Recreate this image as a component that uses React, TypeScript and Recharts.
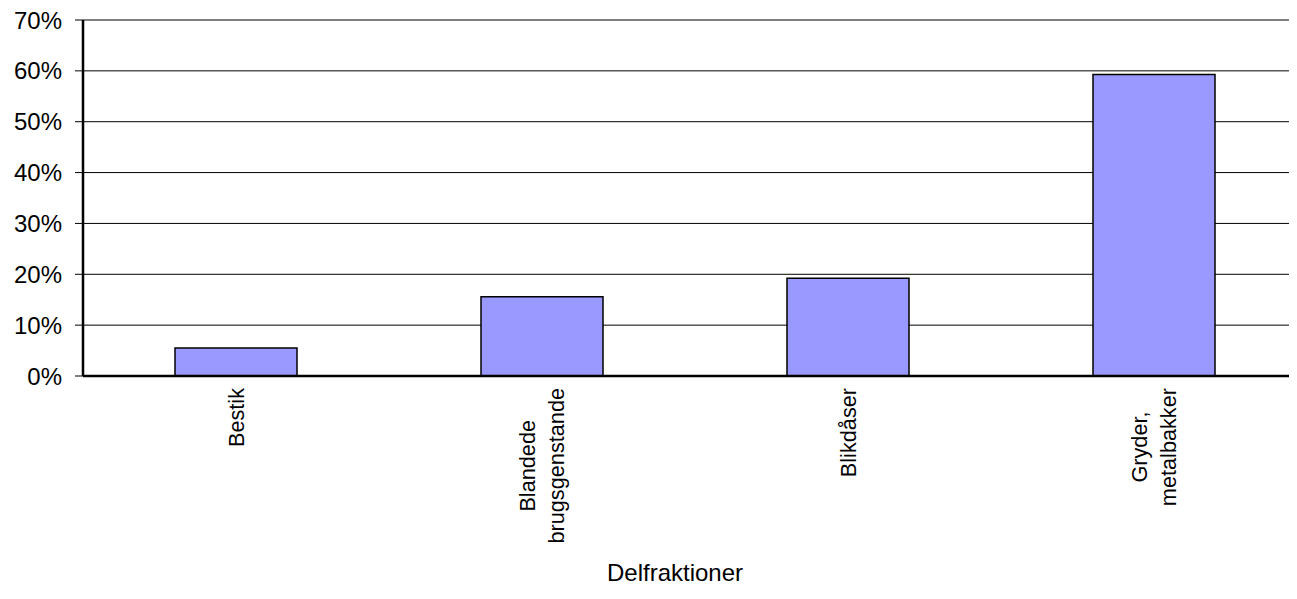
import { BarChart, Bar, XAxis, YAxis, CartesianGrid } from 'recharts';

const categories = ['Bestik', 'Blandede\nbrugsgenstande', 'Blikdåser', 'Gryder,\nmetalbakker'];
const shares = [5.5, 15.6, 19.2, 59.3];
const yTicks = [0, 10, 20, 30, 40, 50, 60, 70];
const xTitle = 'Delfraktioner';

const data = categories.map((name, i) => ({ name, value: shares[i] }));

const FONT = "'Liberation Sans', Arial, sans-serif";
const TICK_FS = 21.7;
const LINE_H = 29;

let ctx: CanvasRenderingContext2D | null = null;
function textWidth(s: string, fs: number) {
    if (!ctx) ctx = document.createElement('canvas').getContext('2d');
    if (!ctx) return s.length * fs * 0.5;
    ctx.font = `${fs}px ${FONT}`;
    return ctx.measureText(s).width;
}

// rotated, multi-line labels, block top-aligned under the axis and lines centred
function CategoryTick(props: any) {
    const { x, y, payload } = props;
    const lines = String(payload.value).split('\n');
    const maxW = Math.max(...lines.map((l) => textWidth(l, TICK_FS)));
    const top = y + 12;
    const b0 = 0.35 * TICK_FS - ((lines.length - 1) * LINE_H) / 2;
    return (
        <g transform={`translate(${x},${top}) rotate(-90)`}>
            {lines.map((l, i) => (
                <text
                    key={i}
                    x={-maxW / 2}
                    y={b0 + i * LINE_H}
                    textAnchor="middle"
                    fontSize={TICK_FS}
                    fontFamily={FONT}
                    fill="#000"
                >
                    {l}
                </text>
            ))}
        </g>
    );
}

function XTitle(props: any) {
    const { viewBox } = props;
    const cx = viewBox.x + viewBox.width / 2 - 20;
    return (
        <text x={cx} y={viewBox.y + 205} textAnchor="middle" fontSize={24} fontFamily={FONT} fill="#000">
            {xTitle}
        </text>
    );
}

export default function App() {
    return (
        <div style={{ width: 1289, height: 583, overflow: 'hidden' }}>
            <BarChart
                width={1310}
                height={583}
                data={data}
                margin={{ top: 12, right: 11, left: 0, bottom: 0 }}
                barSize={122}
            >
                <CartesianGrid vertical={false} stroke="#000" strokeWidth={1} />
                <XAxis
                    dataKey="name"
                    height={215}
                    tickLine={false}
                    tickSize={0}
                    tickMargin={0}
                    interval={0}
                    axisLine={{ stroke: '#000', strokeWidth: 2.5 }}
                    tick={<CategoryTick />}
                    label={<XTitle />}
                />
                <YAxis
                    width={75}
                    domain={[0, 70]}
                    ticks={yTicks}
                    interval={0}
                    tickFormatter={(v: number) => `${v}%`}
                    tickSize={8}
                    tickMargin={13}
                    tickLine={{ stroke: '#000', strokeWidth: 1 }}
                    axisLine={{ stroke: '#000', strokeWidth: 2.5 }}
                    tick={{ fill: '#000', fontSize: 24, fontFamily: FONT }}
                />
                <Bar dataKey="value" fill="#9999ff" stroke="#000" strokeWidth={1.5} isAnimationActive={false} />
            </BarChart>
        </div>
    );
}
